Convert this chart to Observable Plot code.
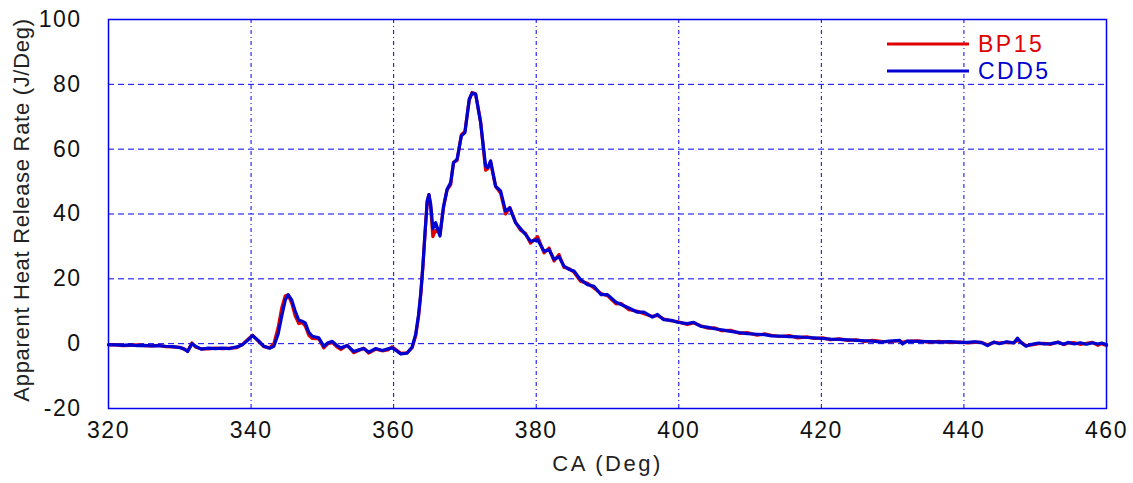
<!DOCTYPE html>
<html>
<head>
<meta charset="utf-8">
<script src="https://cdn.jsdelivr.net/npm/d3@7"></script>
<script src="https://cdn.jsdelivr.net/npm/@observablehq/plot@0.6"></script>
<style>
  html, body { margin: 0; padding: 0; background: #fff; }
  svg { font-family: "Liberation Sans", Arial, sans-serif; }
  .tk text { letter-spacing: 1.5px; }
  .xt text { letter-spacing: 2.5px; }
  .yt text { letter-spacing: 0.7px; }
</style>
</head>
<body>
<div id="chart"></div>
<script>
const ca = [320,321,322,323,324,325,326,327,328,329,330,330.6,331.1,331.7,332.2,333,334,335,336,337,338,338.8,339.5,340.2,341,341.8,342.6,343.2,343.8,344.3,344.8,345.2,345.7,346.2,346.7,347.2,347.6,348.1,348.6,349.5,350.2,350.8,351.4,352,352.6,353.5,354.4,355,355.8,356.5,357.5,358.4,359.2,359.8,360.4,361,361.9,362.6,363.1,363.5,363.8,364.1,364.4,364.7,364.95,365.2,365.5,365.9,366.5,367,367.5,368,368.4,368.9,369.5,370,370.6,371,371.5,372.2,372.9,373.2,373.6,374.3,375,375.7,376.3,377.1,377.8,378.5,379.2,380.2,381.1,381.8,382.5,383.2,383.9,384.6,385.3,386.2,387.2,388.1,389.1,390,391.2,391.9,393,394.2,395.1,396.3,397,397.9,399,399.8,401.2,402.1,403.1,404,405,406,407.3,408.5,409.6,411,412,413,414.3,415.5,416.7,418,419,420.2,421.3,422.5,423.7,425,426,427.2,428.4,429.5,431,431.4,432,433.5,435,436.5,438,439.5,440.5,441.5,442.5,443.3,444.2,445,446,447,447.5,448.1,448.7,449.5,450.5,451.3,452.2,453.2,454,454.6,455.5,456.3,457.2,458,458.8,459.3,460];

const cdd5 = [-0.3,-0.4,-0.5,-0.4,-0.6,-0.5,-0.7,-0.6,-0.8,-0.9,-1.2,-1.6,-2.4,0.0,-0.8,-1.7,-1.4,-1.5,-1.4,-1.5,-1.0,-0.3,1.0,2.5,1.0,-0.8,-1.4,-0.8,3.0,8.5,13.5,15.1,13.5,10.0,7.2,6.9,6.4,3.5,2.3,1.8,-0.8,0.3,0.7,-0.5,-1.3,-0.6,-2.4,-2.0,-1.5,-2.6,-1.5,-2.1,-1.6,-1.3,-2.2,-3.2,-2.9,-1.0,3.0,9.0,15.5,24.0,34.0,44.0,46.0,43.0,35.5,37.3,33.2,42.4,47.6,49.7,55.8,56.9,64.1,65.1,75.4,77.3,77.0,68.2,54.8,54.3,56.4,48.6,47.1,40.9,41.9,37.3,35.5,33.7,31.6,32.1,28.5,29.0,26.0,26.8,23.9,22.9,22.4,19.8,18.2,17.7,15.1,15.1,12.8,12.1,11.0,9.7,9.7,8.2,9.0,7.4,7.2,6.6,6.2,6.6,5.3,5.1,4.6,4.3,3.8,3.4,3.1,2.9,2.8,2.4,2.3,2.2,2.1,1.9,1.8,1.6,1.4,1.3,1.2,1.0,0.9,0.8,0.5,0.8,1.0,-0.1,0.8,0.7,0.6,0.5,0.6,0.4,0.4,0.6,0.3,-0.6,0.5,0.0,0.6,0.2,1.7,0.2,-0.8,-0.2,0.2,-0.1,0.0,0.4,-0.2,0.4,-0.1,0.3,-0.2,0.3,-0.1,0.2,-0.3];

const bp15 = [-0.4,-0.3,-0.6,-0.5,-0.4,-0.6,-0.7,-0.5,-0.9,-1.0,-1.1,-1.7,-2.3,0.2,-1.0,-1.6,-1.6,-1.4,-1.5,-1.4,-1.2,-0.2,1.2,2.6,0.8,-0.9,-1.3,0.0,5.0,11.0,14.8,15.0,12.5,8.5,6.2,6.5,5.5,2.6,1.6,1.5,-1.3,0.0,0.4,-0.9,-1.8,-0.5,-2.8,-2.2,-1.4,-2.9,-1.7,-2.2,-1.9,-1.0,-2.0,-3.0,-2.8,-1.2,2.5,8.5,15.0,23.5,34.0,43.5,46.0,42.0,33.0,35.0,34.0,42.0,47.5,49.0,56.0,56.5,64.5,65.5,75.0,77.5,77.0,68.5,53.5,54.0,56.0,48.5,46.5,40.0,42.0,37.5,35.0,34.0,31.0,33.0,28.0,29.5,25.5,27.5,23.5,23.2,22.0,19.3,18.6,17.2,15.5,14.8,12.3,12.4,10.5,10.0,9.2,8.4,8.7,7.6,7.0,6.8,5.9,6.4,5.5,4.8,4.9,4.0,4.1,3.2,3.4,2.6,3.0,2.6,2.2,2.5,1.8,2.1,1.6,1.8,1.2,1.5,1.0,1.2,0.7,1.0,0.7,0.6,0.9,0.4,0.7,0.9,0.5,0.7,0.4,0.5,0.2,0.5,0.4,-0.3,0.4,0.2,0.4,0.3,1.0,0.3,-0.6,-0.4,0.0,0.1,-0.2,0.5,-0.3,0.2,0.3,-0.2,0.1,0.4,-0.5,0.0,-0.6];

const xTicks = [320,340,360,380,400,420,440,460];
const yTicks = [-20,0,20,40,60,80,100];
const seriesNames = ["BP15","CDD5"];
const seriesColors = ["#e00000","#0000d0"];

const rows = [];
ca.forEach((c,i) => {
  rows.push({ca: c, v: bp15[i], s: "BP15"});
});
ca.forEach((c,i) => {
  rows.push({ca: c, v: cdd5[i], s: "CDD5"});
});

const W = 1133, H = 483;
const fmt = d => String(d);
const plot = Plot.plot({
  width: W,
  height: H,
  marginLeft: 108,
  marginRight: 27,
  marginTop: 19,
  marginBottom: 75,
  style: {fontFamily: "'Liberation Sans', Arial, sans-serif", fontSize: "22px", color: "#000", background: "#fff"},
  x: {domain: [320, 460], ticks: xTicks, label: null},
  y: {domain: [-20, 100], ticks: yTicks, label: null},
  color: {domain: seriesNames, range: seriesColors},
  marks: [
    Plot.gridX(xTicks, {stroke: "#0000ee", strokeOpacity: 1, strokeWidth: 1, strokeDasharray: "4,3,1,3"}),
    Plot.gridY(yTicks, {stroke: "#0000ee", strokeOpacity: 1, strokeWidth: 1, strokeDasharray: "6,4"}),
    Plot.axisX(xTicks, {tickSize: 0, tickPadding: 13, fontSize: 23, fill: "#111", tickFormat: fmt, className: "tk"}),
    Plot.axisY(yTicks, {tickSize: 0, tickPadding: 27, fontSize: 23, fill: "#111", tickFormat: fmt, className: "tk"}),
    Plot.line(rows, {x: "ca", y: "v", z: "s", stroke: "s", strokeWidth: 3.2, curve: "linear"}),
    Plot.frame({stroke: "#0000ee", strokeWidth: 1.5}),
    Plot.text(["CA (Deg)"], {frameAnchor: "bottom", dy: 55, fontSize: 22, fill: "#222", lineAnchor: "middle", className: "xt"}),
    Plot.text(["Apparent Heat Release Rate (J/Deg)"], {frameAnchor: "left", dx: -87, dy: -4, rotate: -90, fontSize: 22, fill: "#222", textAnchor: "middle", lineAnchor: "middle", className: "yt"})
  ]
});

const svg = d3.select(plot);
svg.selectAll(".tk text").style("letter-spacing", "1.5px");
svg.selectAll(".xt text").style("letter-spacing", "2.5px");
svg.selectAll(".yt text").style("letter-spacing", "0.7px");
const lg = svg.append("g").attr("text-anchor", "start");
seriesNames.forEach((name, i) => {
  const y = 44 + i * 27;
  lg.append("line").attr("x1", 887).attr("x2", 969).attr("y1", y).attr("y2", y)
    .attr("stroke", seriesColors[i]).attr("stroke-width", 3);
  lg.append("text").attr("x", 978).attr("y", y).attr("dy", "0.36em")
    .attr("text-anchor", "start")
    .attr("fill", seriesColors[i]).attr("font-size", 23).style("letter-spacing", "2.5px")
    .text(name);
});

document.getElementById("chart").appendChild(plot);
</script>
</body>
</html>
